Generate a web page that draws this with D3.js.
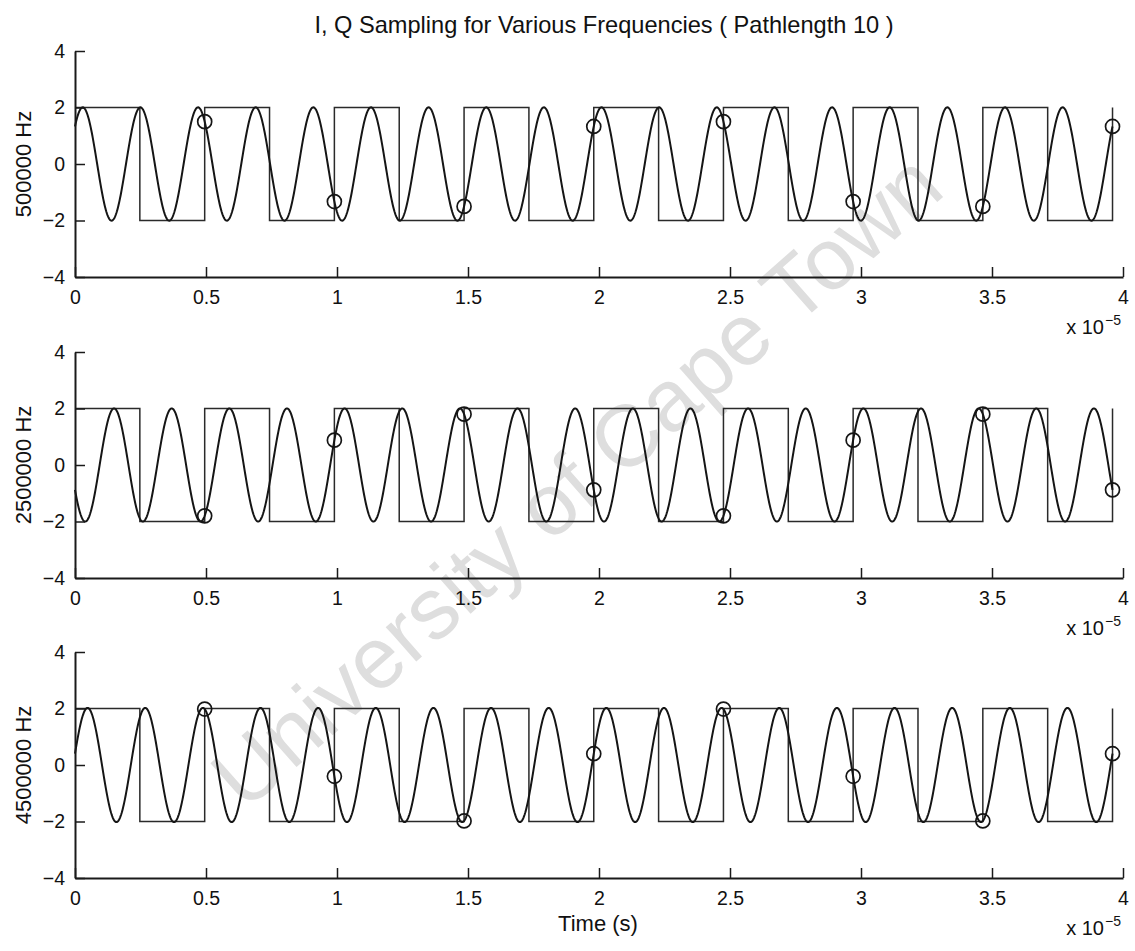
<!DOCTYPE html>
<html>
<head>
<meta charset="utf-8">
<script src="https://cdn.jsdelivr.net/npm/d3@7"></script>
<style>
  html, body { margin: 0; padding: 0; background: #fff; }
  svg { display: block; }
  text { font-family: "Liberation Sans", Arial, Helvetica, sans-serif; fill: #111; }
</style>
</head>
<body>
<svg id="chart" width="1135" height="951"></svg>
<script>
// Time values are in units of 1e-5 s (the axis carries an "x 10^-5" multiplier).
const panelLabels = ["500000 Hz", "2500000 Hz", "4500000 Hz"];

// I/Q sample instants and the sampled values for each frequency.
const sampleTimes = [0.495, 0.99, 1.485, 1.98, 2.475, 2.97, 3.465, 3.96];
const samples500k  = [1.50, -1.33, -1.50, 1.33, 1.50, -1.33, -1.50, 1.33];
const samples2500k = [-1.80, 0.88, 1.80, -0.88, -1.80, 0.88, 1.80, -0.88];
const samples4500k = [1.98, -0.40, -1.98, 0.40, 1.98, -0.40, -1.98, 0.40];
const panelSamples = [samples500k, samples2500k, samples4500k];

// Sampling clock: step edges and the level held after each edge.
const squareTimes  = [0, 0.2475, 0.495, 0.7425, 0.99, 1.2375, 1.485, 1.7325, 1.98,
                      2.2275, 2.475, 2.7225, 2.97, 3.2175, 3.465, 3.7125, 3.96];
const squareLevels = [2, -2, 2, -2, 2, -2, 2, -2, 2, -2, 2, -2, 2, -2, 2, -2, 2];

// Apparent period of the received sinusoid (same for all three panels).
const sinePeriod = 0.22;

const xTicks = [0, 0.5, 1, 1.5, 2, 2.5, 3, 3.5, 4];
const yTicks = [-4, -2, 0, 2, 4];

const svg = d3.select("#chart");

// watermark
svg.append("text")
  .attr("transform", "translate(576,480) rotate(-41.4)")
  .attr("text-anchor", "middle")
  .attr("dominant-baseline", "central")
  .style("font-size", "87px")
  .style("fill", "#dedede")
  .text("University of Cape Town");

const plotLeft = 75, plotRight = 1123;
const panelTops = [51, 352, 652];
const panelH = 226;

const x = d3.scaleLinear().domain([0, 4]).range([plotLeft, plotRight]);

const fmtY = d3.format("d");

svg.append("text")
  .attr("x", 604).attr("y", 33)
  .attr("text-anchor", "middle")
  .style("font-size", "23.6px")
  .text("I, Q Sampling for Various Frequencies ( Pathlength 10 )");

panelTops.forEach((top, i) => {
  const y = d3.scaleLinear().domain([-4, 4]).range([top + panelH, top]);
  const g = svg.append("g");
  const vals = panelSamples[i];
  const t1 = sampleTimes[0];

  // received sinusoid, reconstructed from its first I and Q samples
  const wave = d3.range(0, sampleTimes[sampleTimes.length - 1] + 1e-9, 0.002).map(t => {
    const th = 2 * Math.PI * (t - t1) / sinePeriod;
    return [t, vals[0] * Math.cos(th) + vals[1] * Math.sin(th)];
  });

  // square wave
  g.append("path")
    .datum(squareTimes.map((t, k) => [t, squareLevels[k]]))
    .attr("fill", "none")
    .attr("stroke", "#2a2a2a")
    .attr("stroke-width", 1.5)
    .attr("d", d3.line().x(d => x(d[0])).y(d => y(d[1])).curve(d3.curveStepAfter));

  g.append("path")
    .datum(wave)
    .attr("fill", "none")
    .attr("stroke", "#151515")
    .attr("stroke-width", 2)
    .attr("d", d3.line().x(d => x(d[0])).y(d => y(d[1])));

  g.selectAll("circle")
    .data(sampleTimes.map((t, k) => [t, vals[k]]))
    .join("circle")
    .attr("cx", d => x(d[0]))
    .attr("cy", d => y(d[1]))
    .attr("r", 7)
    .attr("fill", "none")
    .attr("stroke", "#151515")
    .attr("stroke-width", 1.7);

  // axes (ticks point inward, no box)
  const ax = g.append("g")
    .attr("transform", `translate(0,${top + panelH})`)
    .call(d3.axisBottom(x).tickValues(xTicks).tickFormat(d => String(d))
      .tickSizeInner(-10).tickSizeOuter(0).tickPadding(13));
  const ay = g.append("g")
    .attr("transform", `translate(${plotLeft},0)`)
    .call(d3.axisLeft(y).tickValues(yTicks).tickFormat(fmtY)
      .tickSizeInner(-10).tickSizeOuter(0).tickPadding(10));
  [ax, ay].forEach(a => {
    a.select(".domain").attr("stroke", "#1a1a1a").attr("stroke-width", 2);
    a.selectAll(".tick line").attr("stroke", "#1a1a1a").attr("stroke-width", 1.5);
    a.selectAll(".tick text").style("font-size", "19.5px").attr("fill", "#111");
  });

  // y label
  svg.append("text")
    .attr("transform", `translate(31,${y(0)}) rotate(-90)`)
    .attr("text-anchor", "middle")
    .style("font-size", "22px")
    .text(panelLabels[i]);

  // exponent multiplier below the right end of the time axis
  const base = top + panelH + 57;
  svg.append("text")
    .attr("x", 1104).attr("y", base)
    .attr("text-anchor", "end")
    .style("font-size", "20px")
    .text("x 10");
  svg.append("text")
    .attr("x", 1105).attr("y", base - 9)
    .style("font-size", "14px")
    .text("\u22125");
});

svg.append("text")
  .attr("x", 598).attr("y", 931)
  .attr("text-anchor", "middle")
  .style("font-size", "22px")
  .text("Time (s)");
</script>
</body>
</html>
